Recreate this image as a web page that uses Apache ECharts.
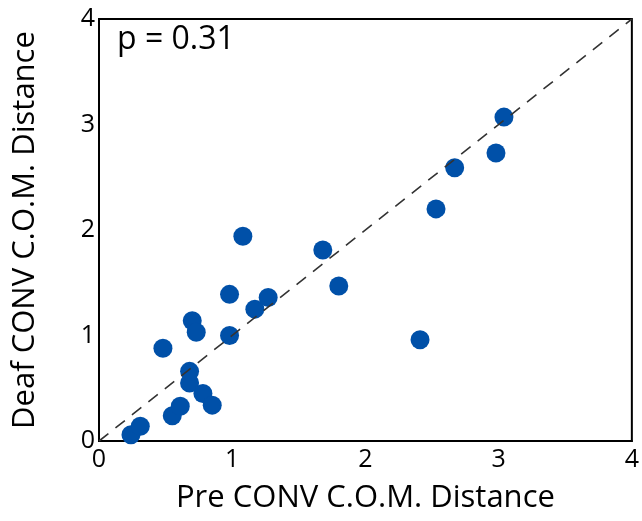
<!DOCTYPE html>
<html>
<head>
<meta charset="utf-8">
<script src="https://cdn.jsdelivr.net/npm/echarts@6/dist/echarts.min.js"></script>
<style>
  html, body { margin: 0; padding: 0; background: #fff; }
  #main { width: 642px; height: 521px; }
</style>
</head>
<body>
<div id="main"></div>
<script>
// pre CONV vs deaf CONV distances
var preDist  = [0.24, 0.31, 0.48, 0.55, 0.61, 0.68, 0.68, 0.78, 0.85, 0.70, 0.73, 0.98, 0.98, 1.08, 1.17, 1.27, 1.68, 1.80, 2.41, 2.53, 2.67, 2.98, 3.04];
var deafDist = [0.06, 0.14, 0.88, 0.24, 0.33, 0.55, 0.66, 0.45, 0.34, 1.14, 1.03, 1.00, 1.39, 1.94, 1.25, 1.36, 1.81, 1.47, 0.96, 2.20, 2.59, 2.73, 3.07];
var unityLine = [[0, 0], [4, 4]];
var axisTicks = [0, 1, 2, 3, 4];
var pText = 'p = 0.31';

var points = preDist.map(function (x, i) { return [x, deafDist[i]]; });

var chart = echarts.init(document.getElementById('main'));
var font = '"Open Sans", "Noto Sans", sans-serif';

chart.setOption({
  animation: false,
  backgroundColor: '#fff',
  grid: {
    left: 99, top: 19, right: 4, bottom: 80,
    show: true,
    borderColor: '#000',
    borderWidth: 2
  },
  graphic: [{
    type: 'text',
    left: 117, top: 24,
    style: { text: pText, font: '32px ' + font, fill: '#000' }
  }],
  xAxis: {
    type: 'value',
    min: axisTicks[0], max: axisTicks[axisTicks.length - 1], interval: 1,
    name: 'Pre CONV C.O.M. Distance',
    nameLocation: 'middle',
    nameGap: 42,
    nameTextStyle: { fontFamily: font, fontSize: 31, color: '#000', verticalAlign: 'top' },
    axisLine: { lineStyle: { color: '#000', width: 2 } },
    axisTick: { show: false },
    splitLine: { show: false },
    axisLabel: { fontFamily: font, fontSize: 25, color: '#000', margin: 6 }
  },
  yAxis: {
    type: 'value',
    min: axisTicks[0], max: axisTicks[axisTicks.length - 1], interval: 1,
    name: 'Deaf CONV C.O.M. Distance',
    nameLocation: 'middle',
    nameGap: 58,
    nameTextStyle: { fontFamily: font, fontSize: 31, color: '#000' },
    axisLine: { lineStyle: { color: '#000', width: 2 } },
    axisTick: { show: false },
    splitLine: { show: false },
    axisLabel: { fontFamily: font, fontSize: 25, color: '#000', margin: 4 }
  },
  series: [{
    type: 'line',
    data: unityLine,
    symbol: 'none',
    silent: true,
    lineStyle: { color: '#333', width: 1.6, type: [12, 9] },
    z: 3
  }, {
    type: 'scatter',
    data: points,
    symbolSize: 19,
    itemStyle: { color: '#0050a8', opacity: 1 },
    z: 2
  }]
});
</script>
</body>
</html>
